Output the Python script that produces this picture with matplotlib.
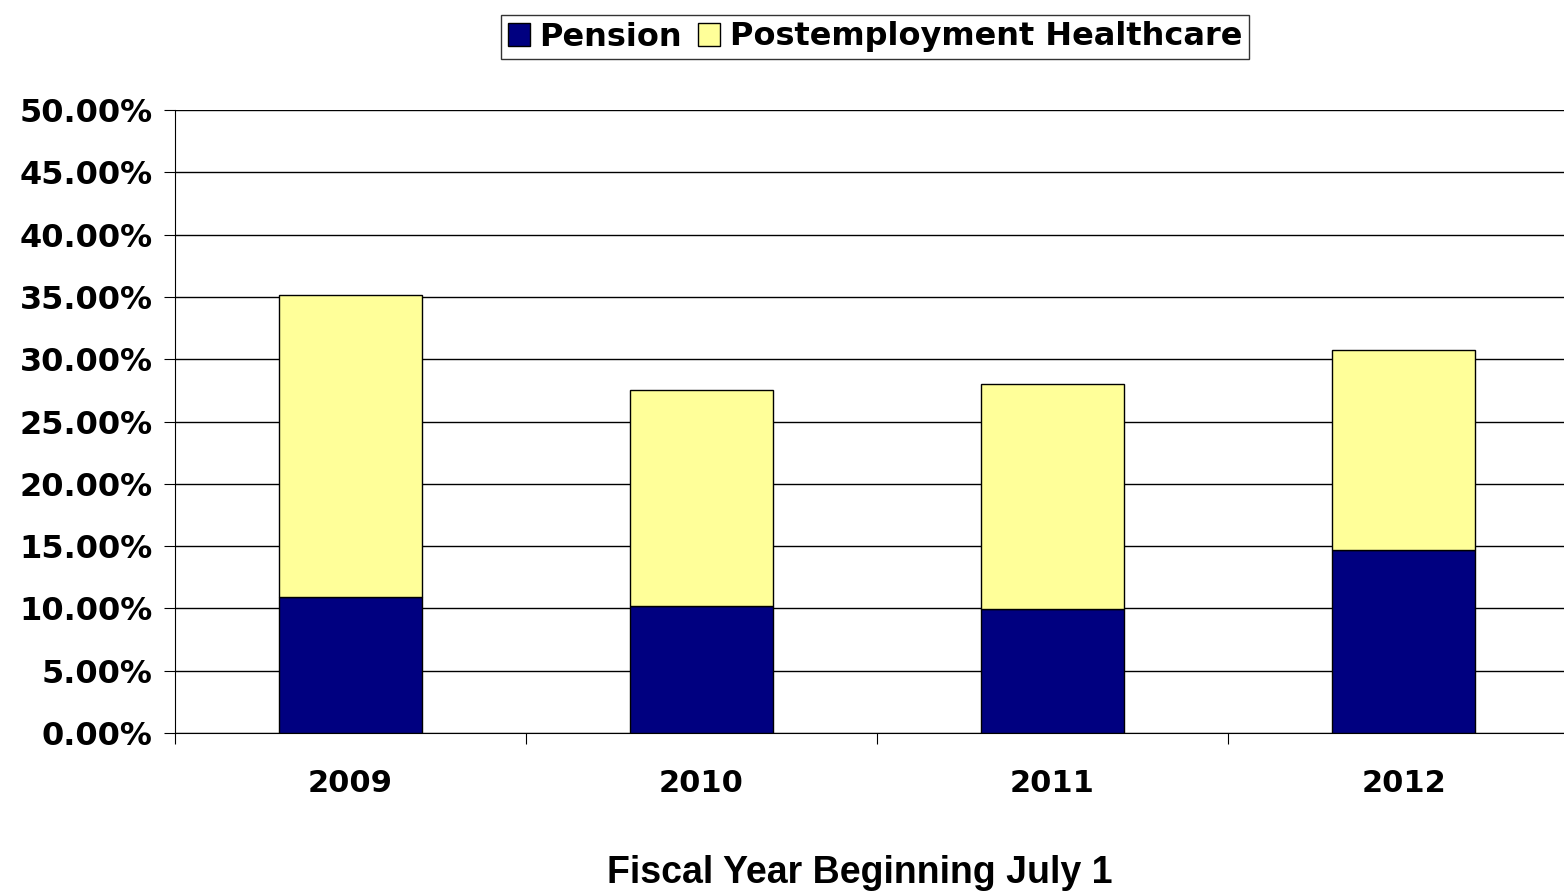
import matplotlib
matplotlib.use("Agg")
import matplotlib.pyplot as plt
from matplotlib.ticker import FuncFormatter, MultipleLocator

years = ["2009", "2010", "2011", "2012"]
pension = [10.9, 10.2, 9.95, 14.7]
healthcare = [24.25, 17.3, 18.05, 16.0]

plt.rcParams["font.family"] = ["DejaVu Sans"]
plt.rcParams["font.weight"] = "bold"

fig = plt.figure(figsize=(15.64, 8.93), dpi=100)
ax = fig.add_axes([175 / 1564, 1 - 733 / 893, 1404 / 1564, (733 - 110) / 893])

x = list(range(len(years)))
ax.bar(x, pension, width=0.405, color="#000080", edgecolor="black", linewidth=1,
       label="Pension", zorder=3)
ax.bar(x, healthcare, bottom=pension, width=0.405, color="#FFFF99", edgecolor="black",
       linewidth=1, label="Postemployment Healthcare", zorder=3)

ax.set_xlim(-0.5, len(years) - 0.5)
ax.set_ylim(0, 50)
ax.yaxis.set_major_locator(MultipleLocator(5))
ax.yaxis.set_major_formatter(FuncFormatter(lambda v, _: f"{v:.2f}%"))
ax.grid(True, axis="y", color="black", linewidth=1, zorder=0)
for s in ["top", "right"]:
    ax.spines[s].set_visible(False)
ax.set_xticks([i - 0.5 for i in range(len(years) + 1)], minor=False)
ax.set_xticklabels([])
ax.set_xticks(x, minor=True)
ax.set_xticklabels(years, minor=True)
ax.tick_params(axis="x", which="minor", length=0, pad=26, labelsize=22)
ax.tick_params(axis="x", which="major", length=8, direction="out")
ax.tick_params(axis="y", labelsize=23, length=8, direction="out", pad=8)
fig.text(860 / 1564, 1 - 873 / 893, "Fiscal Year Beginning July 1", fontsize=27,
         fontweight="bold", ha="center", va="center", family="Liberation Sans")

leg = fig.legend(loc="center", bbox_to_anchor=(875 / 1564, 1 - 37 / 893), ncol=2,
                 fontsize=23, frameon=True, fancybox=False, edgecolor="black",
                 handlelength=0.7, handleheight=0.7, handletextpad=0.3,
                 columnspacing=0.5, borderpad=0.2, borderaxespad=0)
leg.get_frame().set_linewidth(1)

fig.savefig("out.png", dpi=100)
